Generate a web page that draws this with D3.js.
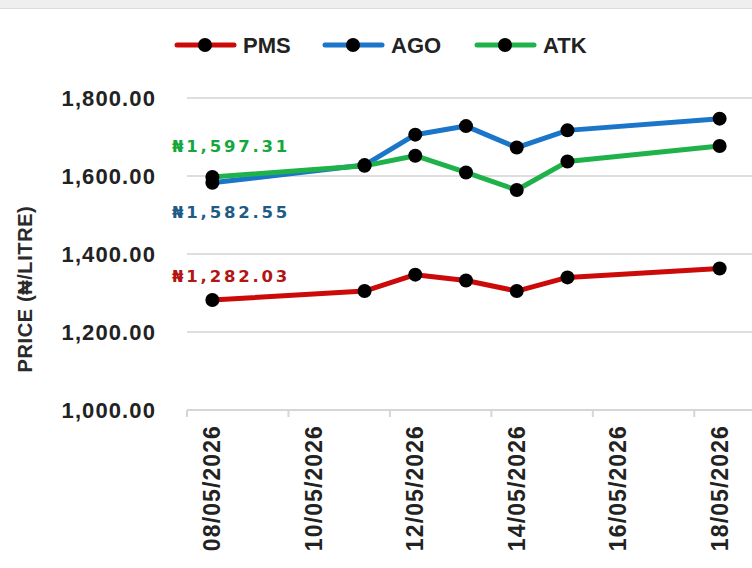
<!DOCTYPE html>
<html>
<head>
<meta charset="utf-8">
<script src="https://cdn.jsdelivr.net/npm/d3@7"></script>
<style>
  html, body { margin: 0; padding: 0; background: #fff; }
  svg { display: block; }
</style>
</head>
<body>
<svg id="chart" width="752" height="568"></svg>
<script>
// calendar days on the x axis
const days = ['08/05/2026', '09/05/2026', '10/05/2026', '11/05/2026', '12/05/2026', '13/05/2026',
  '14/05/2026', '15/05/2026', '16/05/2026', '17/05/2026', '18/05/2026'];
// days that have a reading
const dates = ['08/05/2026', '11/05/2026', '12/05/2026', '13/05/2026', '14/05/2026', '15/05/2026', '18/05/2026'];
const pms = [1282.03, 1305, 1347, 1332, 1305, 1340, 1363];
const ago = [1582.55, 1628, 1706, 1728, 1673, 1717, 1747];
const atk = [1597.31, 1626, 1652, 1609, 1564, 1637, 1677];
const yTicks = [1000, 1200, 1400, 1600, 1800];
const xLabels = ['08/05/2026', '10/05/2026', '12/05/2026', '14/05/2026', '16/05/2026', '18/05/2026'];

const series = [
  { name: 'PMS', values: pms, color: '#cc0a0a', label: '#b31515', labelY: 282 },
  { name: 'AGO', values: ago, color: '#1b75c9', label: '#1f5c85', labelY: 218 },
  { name: 'ATK', values: atk, color: '#1fb24a', label: '#14a83c', labelY: 152 }
];

const svg = d3.select('#chart');

// faint strip at the very top
svg.append('rect').attr('x', 0).attr('y', 0).attr('width', 752).attr('height', 8).attr('fill', '#efefef');
svg.append('line').attr('x1', 0).attr('x2', 752).attr('y1', 8.5).attr('y2', 8.5)
  .attr('stroke', '#dcdcdc').attr('stroke-width', 1);

const x = d3.scaleBand().domain(days).range([187, 745]);
const y = d3.scaleLinear().domain([1000, 1800]).range([410, 98]);
const cx = d => x(d) + x.bandwidth() / 2;

// gridlines
svg.append('g')
  .selectAll('line')
  .data(yTicks.slice(1))
  .join('line')
  .attr('x1', 187).attr('x2', 752)
  .attr('y1', d => y(d)).attr('y2', d => y(d))
  .attr('stroke', '#dedede').attr('stroke-width', 2);

// y axis labels
svg.append('g')
  .selectAll('text')
  .data(yTicks)
  .join('text')
  .attr('x', 156)
  .attr('y', d => y(d) + 8)
  .attr('text-anchor', 'end')
  .attr('font-family', 'Liberation Sans, Arial, sans-serif')
  .attr('font-weight', 700)
  .attr('font-size', 22)
  .attr('letter-spacing', 1.1)
  .attr('fill', '#222')
  .text(d => d3.format(',.2f')(d));

// y axis title
svg.append('text')
  .attr('transform', 'translate(32,289) rotate(-90)')
  .attr('text-anchor', 'middle')
  .attr('font-family', 'Liberation Sans, Arial, sans-serif')
  .attr('font-weight', 700)
  .attr('font-size', 20)
  .attr('letter-spacing', 0.6)
  .attr('fill', '#2a2a2a')
  .text('PRICE (₦/LITRE)');

// x axis line and ticks on band edges
svg.append('line')
  .attr('x1', 187).attr('x2', 752)
  .attr('y1', 410).attr('y2', 410)
  .attr('stroke', '#d6d6d6').attr('stroke-width', 2);
svg.append('g')
  .selectAll('line')
  .data(xLabels)
  .join('line')
  .attr('x1', d => x(d)).attr('x2', d => x(d))
  .attr('y1', 410).attr('y2', 417)
  .attr('stroke', '#d6d6d6').attr('stroke-width', 2);

svg.append('g')
  .selectAll('text')
  .data(xLabels)
  .join('text')
  .attr('transform', d => `translate(${cx(d) + 8},425) rotate(-90)`)
  .attr('text-anchor', 'end')
  .attr('font-family', 'Liberation Sans, Arial, sans-serif')
  .attr('font-weight', 700)
  .attr('font-size', 23)
  .attr('letter-spacing', 1.1)
  .attr('fill', '#222')
  .text(d => d);

// lines + dots
const line = d3.line().x((d, i) => cx(dates[i])).y(d => y(d));
series.forEach(s => {
  svg.append('path')
    .attr('d', line(s.values))
    .attr('fill', 'none')
    .attr('stroke', s.color)
    .attr('stroke-width', 5)
    .attr('stroke-linejoin', 'round');
});
series.forEach(s => {
  svg.append('g')
    .selectAll('circle')
    .data(s.values)
    .join('circle')
    .attr('cx', (d, i) => cx(dates[i]))
    .attr('cy', d => y(d))
    .attr('r', 7)
    .attr('fill', '#000');
});

// first value callouts
series.forEach(s => {
  svg.append('text')
    .attr('x', 172)
    .attr('y', s.labelY)
    .attr('font-family', 'DejaVu Sans, sans-serif')
    .attr('font-weight', 700)
    .attr('font-size', 16.5)
    .attr('letter-spacing', 2.8)
    .attr('fill', s.label)
    .text('₦' + d3.format(',.2f')(s.values[0]));
});

// legend
const legendX = [177, 325, 477];
series.forEach((s, i) => {
  const g = svg.append('g').attr('transform', `translate(${legendX[i]},45)`);
  g.append('line').attr('x1', 0).attr('x2', 57).attr('y1', 0).attr('y2', 0)
    .attr('stroke', s.color).attr('stroke-width', 5).attr('stroke-linecap', 'round');
  g.append('circle').attr('cx', 28).attr('cy', 0).attr('r', 7).attr('fill', '#000');
  g.append('text').attr('x', 66).attr('y', 8)
    .attr('font-family', 'Liberation Sans, Arial, sans-serif')
    .attr('font-weight', 700)
    .attr('font-size', 22)
    .attr('fill', '#222')
    .text(s.name);
});
</script>
</body>
</html>
